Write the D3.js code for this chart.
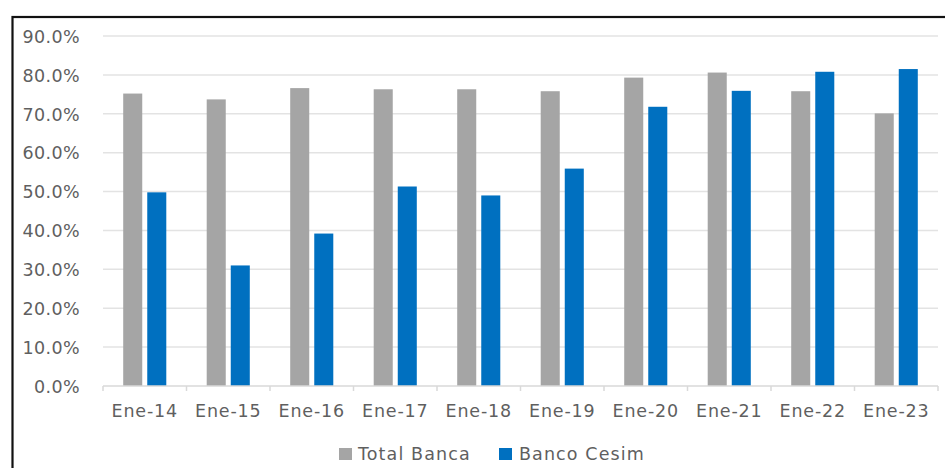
<!DOCTYPE html>
<html>
<head>
<meta charset="utf-8">
<script src="https://cdn.jsdelivr.net/npm/d3@7"></script>
<style>
  html, body { margin: 0; padding: 0; background: #fff; }
  svg { display: block; }
  text { font-family: "DejaVu Sans", Verdana, sans-serif; fill: #5f5f5f; }
</style>
</head>
<body>
<svg id="chart" width="945" height="468"></svg>
<script>
// Categories (January of each year) and the two series, as fractions
const categories = ["Ene-14", "Ene-15", "Ene-16", "Ene-17", "Ene-18", "Ene-19", "Ene-20", "Ene-21", "Ene-22", "Ene-23"];
const totalBanca  = [0.752, 0.737, 0.766, 0.763, 0.763, 0.758, 0.793, 0.806, 0.758, 0.701];
const bancoCesim  = [0.498, 0.310, 0.392, 0.513, 0.490, 0.559, 0.718, 0.759, 0.808, 0.815];
const seriesNames = ["Total Banca", "Banco Cesim"];
const seriesColors = ["#a5a5a5", "#0070c0"];
const yTicks = [0, 0.1, 0.2, 0.3, 0.4, 0.5, 0.6, 0.7, 0.8, 0.9];

const svg = d3.select("#chart");
const W = 945, H = 468;

// Outer frame: only its top and left edges fall inside the view
svg.append("rect")
  .attr("x", 12.5).attr("y", 17)
  .attr("width", W + 20).attr("height", H + 20)
  .attr("fill", "none").attr("stroke", "#111").attr("stroke-width", 2.2);

const plot = { left: 103, right: 938, top: 36, bottom: 386 };

const x = d3.scaleBand().domain(categories).range([plot.left, plot.right]).padding(0);
const y = d3.scaleLinear().domain([0, 0.9]).range([plot.bottom, plot.top]);

// Horizontal gridlines
svg.append("g")
  .selectAll("line")
  .data(yTicks.filter(d => d > 0))
  .join("line")
  .attr("x1", plot.left).attr("x2", plot.right)
  .attr("y1", d => y(d)).attr("y2", d => y(d))
  .attr("stroke", "#e3e3e3").attr("stroke-width", 1.5);

// Y axis labels
const yAxis = d3.axisLeft(y).tickValues(yTicks).tickFormat(d3.format(".1%")).tickSize(0).tickPadding(0);
const gy = svg.append("g").attr("transform", "translate(80,0)").call(yAxis);
gy.select(".domain").remove();
gy.selectAll("text")
  .attr("font-size", 17.5)
  .attr("font-family", "DejaVu Sans, Verdana, sans-serif")
  .attr("fill", "#5f5f5f")
  .attr("letter-spacing", 0.4)
  .attr("dy", "0.36em");

// Bars
const bw = x.bandwidth();
const barW = bw * 0.228;
const gap = bw * 0.06;
const offsets = [(bw - 2 * barW - gap) / 2, (bw - 2 * barW - gap) / 2 + barW + gap];
[totalBanca, bancoCesim].forEach((vals, si) => {
  svg.append("g")
    .selectAll("rect")
    .data(vals)
    .join("rect")
    .attr("x", (d, i) => x(categories[i]) + offsets[si])
    .attr("y", d => y(d))
    .attr("width", barW)
    .attr("height", d => plot.bottom - y(d))
    .attr("fill", seriesColors[si]);
});

// Category axis: baseline, tick marks at band edges, labels
const gx = svg.append("g");
gx.append("line")
  .attr("x1", plot.left).attr("x2", plot.right)
  .attr("y1", plot.bottom).attr("y2", plot.bottom)
  .attr("stroke", "#d9d9d9").attr("stroke-width", 1.5);
const edges = categories.map(c => x(c)).concat([x(categories[categories.length - 1]) + bw]);
gx.selectAll("line.tick")
  .data(edges)
  .join("line")
  .attr("class", "tick")
  .attr("x1", d => d).attr("x2", d => d)
  .attr("y1", plot.bottom).attr("y2", plot.bottom + 5)
  .attr("stroke", "#d9d9d9").attr("stroke-width", 1.5);
gx.selectAll("text")
  .data(categories)
  .join("text")
  .attr("x", d => x(d) + bw / 2)
  .attr("y", 417)
  .attr("text-anchor", "middle")
  .attr("font-size", 17.5)
  .attr("letter-spacing", 0.8)
  .text(d => d);

// Legend
const legendItems = [
  { name: seriesNames[0], color: seriesColors[0], sx: 339, tx: 358 },
  { name: seriesNames[1], color: seriesColors[1], sx: 499, tx: 519 }
];
const lg = svg.append("g");
lg.selectAll("rect")
  .data(legendItems)
  .join("rect")
  .attr("x", d => d.sx).attr("y", 448)
  .attr("width", 13).attr("height", 12)
  .attr("fill", d => d.color);
lg.selectAll("text")
  .data(legendItems)
  .join("text")
  .attr("x", d => d.tx).attr("y", 460)
  .attr("font-size", 17.5)
  .attr("letter-spacing", 1.1)
  .text(d => d.name);
</script>
</body>
</html>
